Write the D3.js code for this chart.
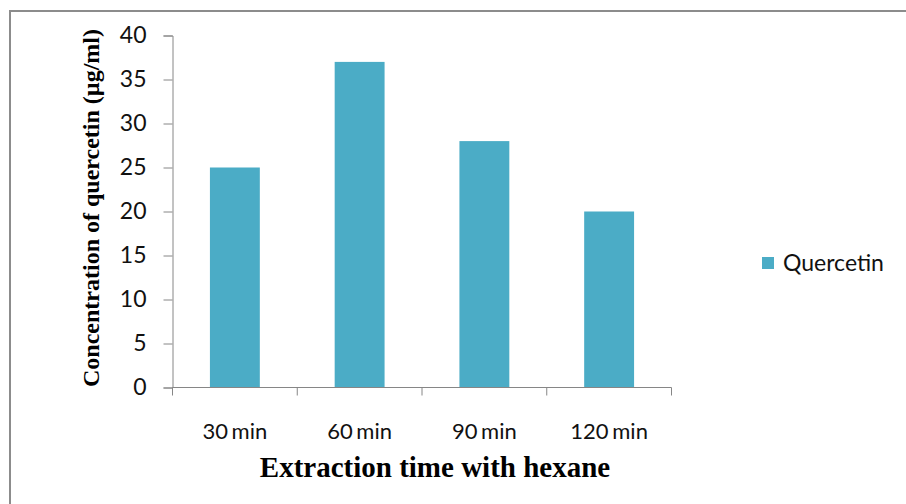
<!DOCTYPE html>
<html>
<head>
<meta charset="utf-8">
<script src="https://cdn.jsdelivr.net/npm/d3@7"></script>
<style>
  html, body { margin: 0; padding: 0; background: #fff; }
  svg { display: block; }
</style>
</head>
<body>
<svg id="chart" width="906" height="504"></svg>
<script>
// Quercetin concentration by extraction time
const categories = ["30 min", "60 min", "90 min", "120 min"];
const quercetin = [25, 37, 28, 20];
const yTicks = [0, 5, 10, 15, 20, 25, 30, 35, 40];
const seriesName = "Quercetin";
const xTitle = "Extraction time with hexane";
const yTitle = "Concentration of quercetin (µg/ml)";

const svg = d3.select("#chart");
const barColor = "#4BACC6";
const axisColor = "#868686";
const labelFont = "Lato, 'Open Sans', sans-serif";
const titleFont = "'Liberation Serif', 'Times New Roman', serif";

// Chart frame (runs past the right and bottom edges)
svg.append("rect")
  .attr("x", 10).attr("y", 11)
  .attr("width", 920).attr("height", 520)
  .attr("fill", "none")
  .attr("stroke", "#8c8c8c")
  .attr("stroke-width", 2);

const x = d3.scaleBand()
  .domain(categories)
  .range([172.5, 671.5])
  .paddingInner(0.6)
  .paddingOuter(0.3);

const y = d3.scaleLinear()
  .domain([0, 40])
  .range([387.5, 35.5]);

// Bars
svg.append("g")
  .selectAll("rect")
  .data(quercetin)
  .join("rect")
  .attr("x", (d, i) => x(categories[i]))
  .attr("y", d => y(d))
  .attr("width", x.bandwidth())
  .attr("height", d => y(0) - y(d))
  .attr("fill", barColor);

// Y axis
const yAxis = svg.append("g")
  .attr("transform", "translate(172.5,0)")
  .call(d3.axisLeft(y).tickValues(yTicks).tickSize(9).tickPadding(17).tickFormat(d3.format("d")));
yAxis.select(".domain").attr("stroke", axisColor);
yAxis.selectAll(".tick line").attr("stroke", axisColor);
yAxis.selectAll(".tick text")
  .attr("fill", "#111")
  .style("font-family", labelFont)
  .style("font-size", "23px");

// X axis: baseline with ticks at category boundaries
const xg = svg.append("g").attr("transform", `translate(0,${y(0)})`);
xg.append("line")
  .attr("x1", x.range()[0]).attr("x2", x.range()[1])
  .attr("stroke", axisColor);
const step = x.step();
const boundaries = d3.range(categories.length + 1).map(i => x.range()[0] + i * step);
xg.selectAll("line.tick")
  .data(boundaries)
  .join("line")
  .attr("class", "tick")
  .attr("x1", d => d).attr("x2", d => d)
  .attr("y1", 0).attr("y2", 8)
  .attr("stroke", axisColor);
xg.selectAll("text")
  .data(categories)
  .join("text")
  .attr("x", d => x(d) + x.bandwidth() / 2)
  .attr("y", 51)
  .attr("text-anchor", "middle")
  .style("font-family", labelFont)
  .style("font-size", "22px")
  .style("word-spacing", "-2px")
  .attr("fill", "#111")
  .text(d => d);

// Axis titles
svg.append("text")
  .attr("x", 435).attr("y", 477)
  .attr("text-anchor", "middle")
  .style("font-family", titleFont)
  .style("font-weight", "bold")
  .style("font-size", "29px")
  .text(xTitle);

svg.append("text")
  .attr("transform", "translate(99,208) rotate(-90)")
  .attr("text-anchor", "middle")
  .style("font-family", titleFont)
  .style("font-weight", "bold")
  .style("font-size", "24px")
  .text(yTitle);

// Legend
const legend = svg.append("g").attr("transform", "translate(762,257)");
legend.append("rect")
  .attr("width", 12).attr("height", 12)
  .attr("fill", barColor);
legend.append("text")
  .attr("x", 21).attr("y", 14)
  .style("font-family", labelFont)
  .style("font-size", "23px")
  .attr("fill", "#111")
  .text(seriesName);
</script>
</body>
</html>
